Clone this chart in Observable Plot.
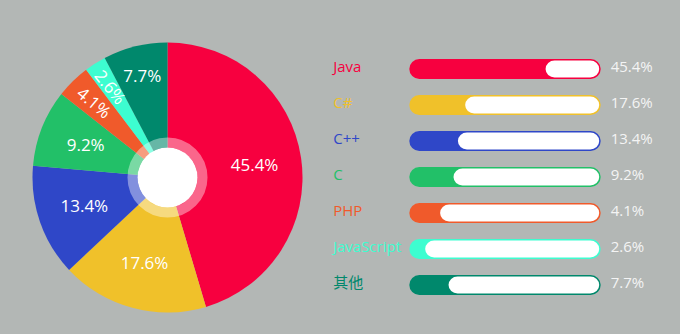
<!DOCTYPE html>
<html><head><meta charset="utf-8">
<script src="https://cdn.jsdelivr.net/npm/d3@7"></script>
<script src="https://cdn.jsdelivr.net/npm/@observablehq/plot@0.6"></script>
<style>
html,body{margin:0;padding:0;background:#b3b7b5;}
#chart{width:680px;height:334px;}
</style></head><body><div id="chart"></div>
<script>
const languages = ["Java", "C#", "C++", "C", "PHP", "JavaScript", "其他"];
const shares = [45.4, 17.6, 13.4, 9.2, 4.1, 2.6, 7.7];
const barFill = [71.2, 29.2, 25.4, 23.1, 16.1, 8.3, 20.5];
const colors = ["#f7003f", "#f0c12a", "#2f47c8", "#22c068", "#f05a2b", "#3dfdd0", "#00886c"];
const valueLabels = shares.map(v => v.toFixed(1) + "%");

const data = languages.map((name, i) => ({name, share: shares[i], fill: barFill[i], label: valueLabels[i]}));

const cx = 167.5, cy = 177.5, R = 135;
const arcs = d3.pie().sort(null).value(d => d.share)(data);

function pieMark(index, scales) {
  const g = d3.create("svg:g").attr("transform", `translate(${cx},${cy})`);
  const arc = d3.arc().innerRadius(0).outerRadius(R);
  g.selectAll("path").data(arcs).join("path")
    .attr("d", arc)
    .attr("fill", d => scales.color(d.data.name));
  g.append("circle").attr("r", 35).attr("fill", "none")
    .attr("stroke", "white").attr("stroke-width", 10).attr("stroke-opacity", 0.4);
  g.append("circle").attr("r", 30).attr("fill", "white");
  g.selectAll("text").data(arcs).join("text")
    .attr("transform", d => {
      const a = (d.startAngle + d.endAngle) / 2;
      const r = d.data.share < 3 ? 107 : d.data.share < 8 ? 105 : 88;
      const x = r * Math.sin(a), y = -r * Math.cos(a);
      const rot = d.data.share < 5 ? a * 180 / Math.PI - 276 : 0;
      return `translate(${x},${y}) rotate(${rot})`;
    })
    .attr("text-anchor", "middle")
    .attr("dy", "0.36em")
    .attr("fill", "white")
    .attr("font-size", 17)
    .text(d => d.data.label);
  return g.node();
}

const chart = Plot.plot({
  width: 680,
  height: 334,
  margin: 0,
  style: {background: "#b3b7b5", fontFamily: "'Open Sans', 'Noto Sans CJK SC', sans-serif"},
  x: {domain: [0, 100], range: [409.3, 600.7], axis: null},
  y: {type: "band", domain: languages, range: [42.7, 311.8], padding: 0.434, axis: null},
  color: {domain: languages, range: colors},
  marks: [
    pieMark,
    Plot.barX(data, {x1: 0, x2: 100, y: "name", fill: "name", rx: 10}),
    Plot.barX(data, {x1: "fill", x2: 100, y: "name", fill: "white", rx: 9, insetTop: 1.5, insetBottom: 1.5, insetRight: 1.5}),
    Plot.text(data, {x: 0, y: "name", text: "name", fill: "name", dx: -76.6, dy: -2, textAnchor: "start", fontSize: 15}),
    Plot.text(data, {x: 100, y: "name", text: "label", fill: "#f4f4f4", dx: 9.5, dy: -2, textAnchor: "start", fontSize: 15})
  ]
});
document.getElementById("chart").append(chart);
</script>
</body></html>
